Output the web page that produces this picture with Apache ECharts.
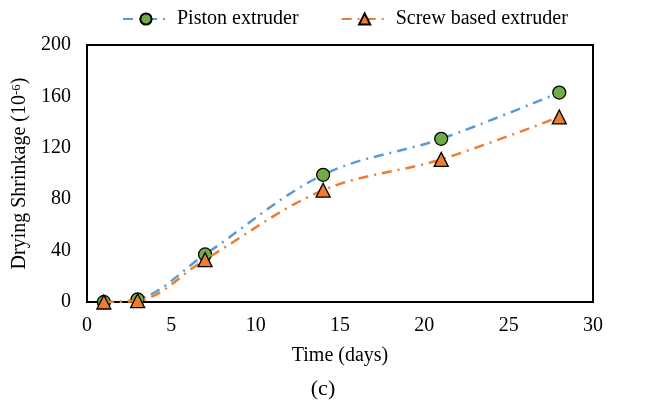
<!DOCTYPE html>
<html>
<head>
<meta charset="utf-8">
<script src="https://cdn.jsdelivr.net/npm/echarts@6/dist/echarts.min.js"></script>
<style>
  html, body { margin: 0; padding: 0; background: #fff; }
  #chart { width: 646px; height: 407px; }
</style>
</head>
<body>
<div id="chart"></div>
<script>
// drying shrinkage readings (10^-6)
var days = [1, 3, 7, 14, 21, 28];
var piston = [0, 2, 37, 99, 127, 163];
var screw = [0, 1, 33, 87, 111, 144];
var seriesNames = ['Piston extruder', 'Screw based extruder'];

function pairs(xs, ys) {
	var out = [];
	for (var i = 0; i < xs.length; i++) {
		out.push([xs[i], ys[i]]);
	}
	return out;
}

var font = 'Liberation Serif';
var myChart = echarts.init(document.getElementById('chart'));

myChart.setOption({
	animation: false,
	textStyle: { fontFamily: font, color: '#000' },
	title: {
		text: '(c)',
		left: 'center',
		bottom: 2,
		textStyle: { fontFamily: font, fontSize: 22, fontWeight: 'normal', color: '#000' }
	},
	legend: {
		top: 4,
		left: 117,
		itemWidth: 46,
		itemHeight: 14,
		itemGap: 42,
		textStyle: { fontFamily: font, fontSize: 20, color: '#000', padding: [0, 0, 0, 3] },
		data: seriesNames
	},
	grid: {
		left: 87,
		right: 53,
		top: 45,
		bottom: 105,
		show: true,
		borderColor: '#000',
		borderWidth: 2
	},
	xAxis: {
		type: 'value',
		min: 0,
		max: 30,
		interval: 5,
		name: 'Time (days)',
		nameLocation: 'middle',
		nameGap: 44,
		nameTextStyle: { fontFamily: font, fontSize: 20, color: '#000' },
		axisLine: { lineStyle: { color: '#000', width: 2 } },
		axisTick: { show: false },
		splitLine: { show: false },
		axisLabel: { fontFamily: font, fontSize: 20, color: '#000', margin: 14 }
	},
	yAxis: {
		type: 'value',
		min: 0,
		max: 200,
		interval: 40,
		name: '{n|Drying Shrinkage (10}{s|-6}{n|)}',
		nameLocation: 'middle',
		nameGap: 56,
		nameTextStyle: {
			rich: {
				n: { fontFamily: font, fontSize: 20, color: '#000' },
				s: { fontFamily: font, fontSize: 13, color: '#000', verticalAlign: 'top', padding: [0, 0, 8, 0] }
			}
		},
		axisLine: { show: true, lineStyle: { color: '#000', width: 2 } },
		axisTick: { show: false },
		splitLine: { show: false },
		axisLabel: { fontFamily: font, fontSize: 20, color: '#000', margin: 16 }
	},
	series: [
		{
			name: seriesNames[0],
			type: 'line',
			smooth: 0.35,
			data: pairs(days, piston),
			symbol: 'circle',
			symbolSize: 13,
			itemStyle: { color: '#70AD47', borderColor: '#000', borderWidth: 1.3 },
			lineStyle: { color: '#5B9BD5', width: 2.5, type: [10, 6, 2, 6] },
			z: 3
		},
		{
			name: seriesNames[1],
			type: 'line',
			smooth: 0.35,
			data: pairs(days, screw),
			symbol: 'triangle',
			symbolSize: 14,
			itemStyle: { color: '#ED7D31', borderColor: '#000', borderWidth: 1.3 },
			lineStyle: { color: '#ED7D31', width: 2.5, type: [10, 6, 2, 6] },
			z: 4
		}
	]
});
</script>
</body>
</html>
